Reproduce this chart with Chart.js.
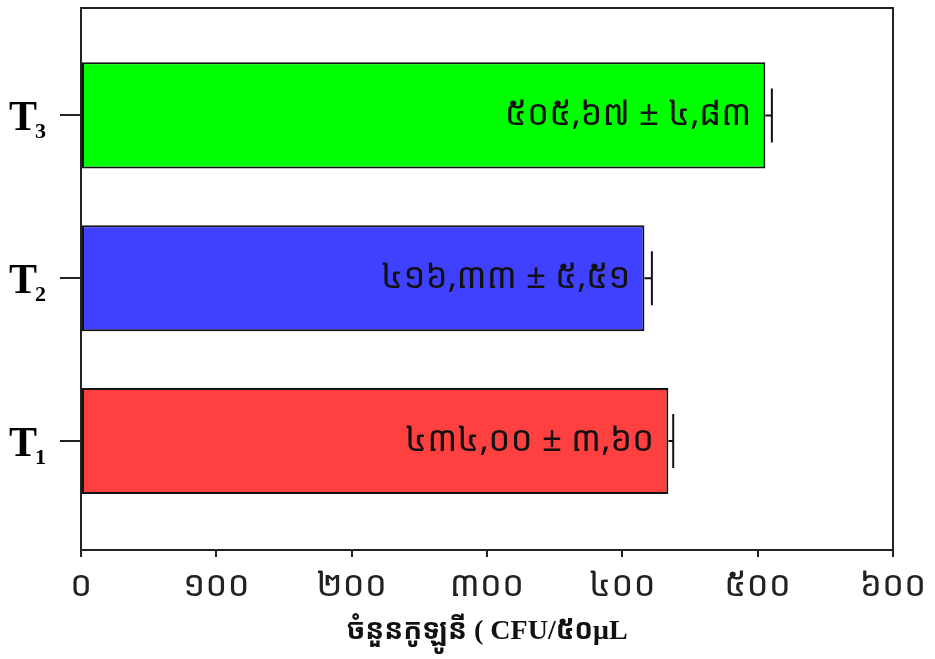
<!DOCTYPE html>
<html>
<head>
<meta charset="utf-8">
<script src="https://cdn.jsdelivr.net/npm/chart.js@4/dist/chart.umd.min.js"></script>
<style>
html, body { margin: 0; padding: 0; background: #fff; }
#wrap { width: 935px; height: 659px; }
</style>
</head>
<body>
<div id="wrap"><canvas id="canvas"></canvas></div>
<script>
// data
var categories = ['T', 'T', 'T'];
var subscripts = ['1', '2', '3'];
var means = [434.00, 416.33, 505.67];
var errors = [3.60, 5.51, 4.83];
var barColors = ['#ff4040', '#4040ff', '#00ff00'];
var xTicks = [0, 100, 200, 300, 400, 500, 600];
var axisTitle = 'ចំនួនកូឡូនី ( CFU/៥០μL';

var khmerDigits = '០១២៣៤៥៦៧៨៩';
function toKhmer(s) {
    return String(s).replace(/[0-9]/g, function (d) { return khmerDigits[+d]; });
}
function fmt(v) {
    return toKhmer(v.toFixed(2).replace('.', ','));
}

var khmerFont = "'Noto Sans Khmer', 'Khmer OS', 'Noto Sans', sans-serif";

var points = [];
for (var i = 0; i < means.length; i++) {
    points.push({ x: means[i], y: i });
}

var decor = {
    id: 'decor',
    afterDatasetsDraw: function (chart) {
        var ctx = chart.ctx;
        var xs = chart.scales.x;
        var meta = chart.getDatasetMeta(0);
        ctx.save();
        ctx.strokeStyle = '#111';
        ctx.lineWidth = 2;
        for (var i = 0; i < means.length; i++) {
            var bar = meta.data[i];
            var x0 = xs.getPixelForValue(means[i]);
            var x1 = xs.getPixelForValue(means[i] + errors[i]);
            var cy = bar.y;
            // error bar
            ctx.beginPath();
            ctx.moveTo(x0, cy);
            ctx.lineTo(x1, cy);
            ctx.moveTo(x1, cy - 27);
            ctx.lineTo(x1, cy + 27);
            ctx.stroke();
            // value label
            ctx.fillStyle = '#111';
            ctx.font = '35px ' + khmerFont;
            ctx.textAlign = 'right';
            ctx.textBaseline = 'middle';
            ctx.fillText(fmt(means[i]) + ' ± ' + fmt(errors[i]), x0 - 14, cy);
        }
        ctx.restore();
    },
    afterDraw: function (chart) {
        var ctx = chart.ctx;
        var a = chart.chartArea;
        var ys = chart.scales.y;
        ctx.save();
        ctx.strokeStyle = '#222';
        ctx.lineWidth = 2;
        ctx.strokeRect(a.left, a.top, a.right - a.left, a.bottom - a.top);
        // category labels with subscripts
        ctx.fillStyle = '#000';
        ctx.textAlign = 'left';
        ctx.textBaseline = 'alphabetic';
        for (var i = 0; i < categories.length; i++) {
            var y = ys.getPixelForValue(i);
            ctx.font = "bold 42px 'Liberation Serif', serif";
            ctx.fillText(categories[i], 9, y + 15);
            ctx.font = "bold 22px 'Liberation Serif', serif";
            ctx.fillText(subscripts[i], 35, y + 23);
        }
        ctx.restore();
    }
};

var config = {
    type: 'bar',
    data: {
        datasets: [{
            data: points,
            backgroundColor: barColors,
            borderColor: '#111',
            borderWidth: 2,
            borderSkipped: false,
            categoryPercentage: 1,
            barPercentage: 0.652
        }]
    },
    options: {
        indexAxis: 'y',
        responsive: true,
        maintainAspectRatio: false,
        animation: false,
        layout: { padding: { left: 0, right: 42, top: 8, bottom: 0 } },
        plugins: {
            legend: { display: false },
            tooltip: { enabled: false }
        },
        scales: {
            x: {
                type: 'linear',
                min: 0,
                max: 600,
                afterBuildTicks: function (s) {
                    s.ticks = xTicks.map(function (v) { return { value: v }; });
                },
                afterFit: function (s) { s.height = 109; },
                grid: { drawOnChartArea: false, tickLength: 7, color: '#222', lineWidth: 2 },
                border: { display: true, color: '#222', width: 2 },
                ticks: {
                    color: '#222',
                    padding: 8,
                    maxRotation: 0,
                    font: { family: khmerFont, size: 35 },
                    callback: function (v) { return toKhmer(v); }
                },
                title: {
                    display: true,
                    text: axisTitle,
                    color: '#111',
                    font: { family: "'Liberation Serif', 'Noto Sans Khmer', serif", size: 28, weight: 'bold' },
                    padding: { top: 0, bottom: 10 }
                }
            },
            y: {
                type: 'linear',
                offset: false,
                min: -0.67,
                max: 2.66,
                afterBuildTicks: function (s) {
                    s.ticks = categories.map(function (c, i) { return { value: i }; });
                },
                afterFit: function (s) { s.width = 81; },
                grid: { offset: false, drawOnChartArea: false, tickLength: 21, color: '#222', lineWidth: 2 },
                border: { display: true, color: '#222', width: 2 },
                ticks: { display: false }
            }
        }
    },
    plugins: [decor]
};

window.onload = function () {
    var ctx = document.getElementById('canvas').getContext('2d');
    window.myBar = new Chart(ctx, config);
};
</script>
</body>
</html>
